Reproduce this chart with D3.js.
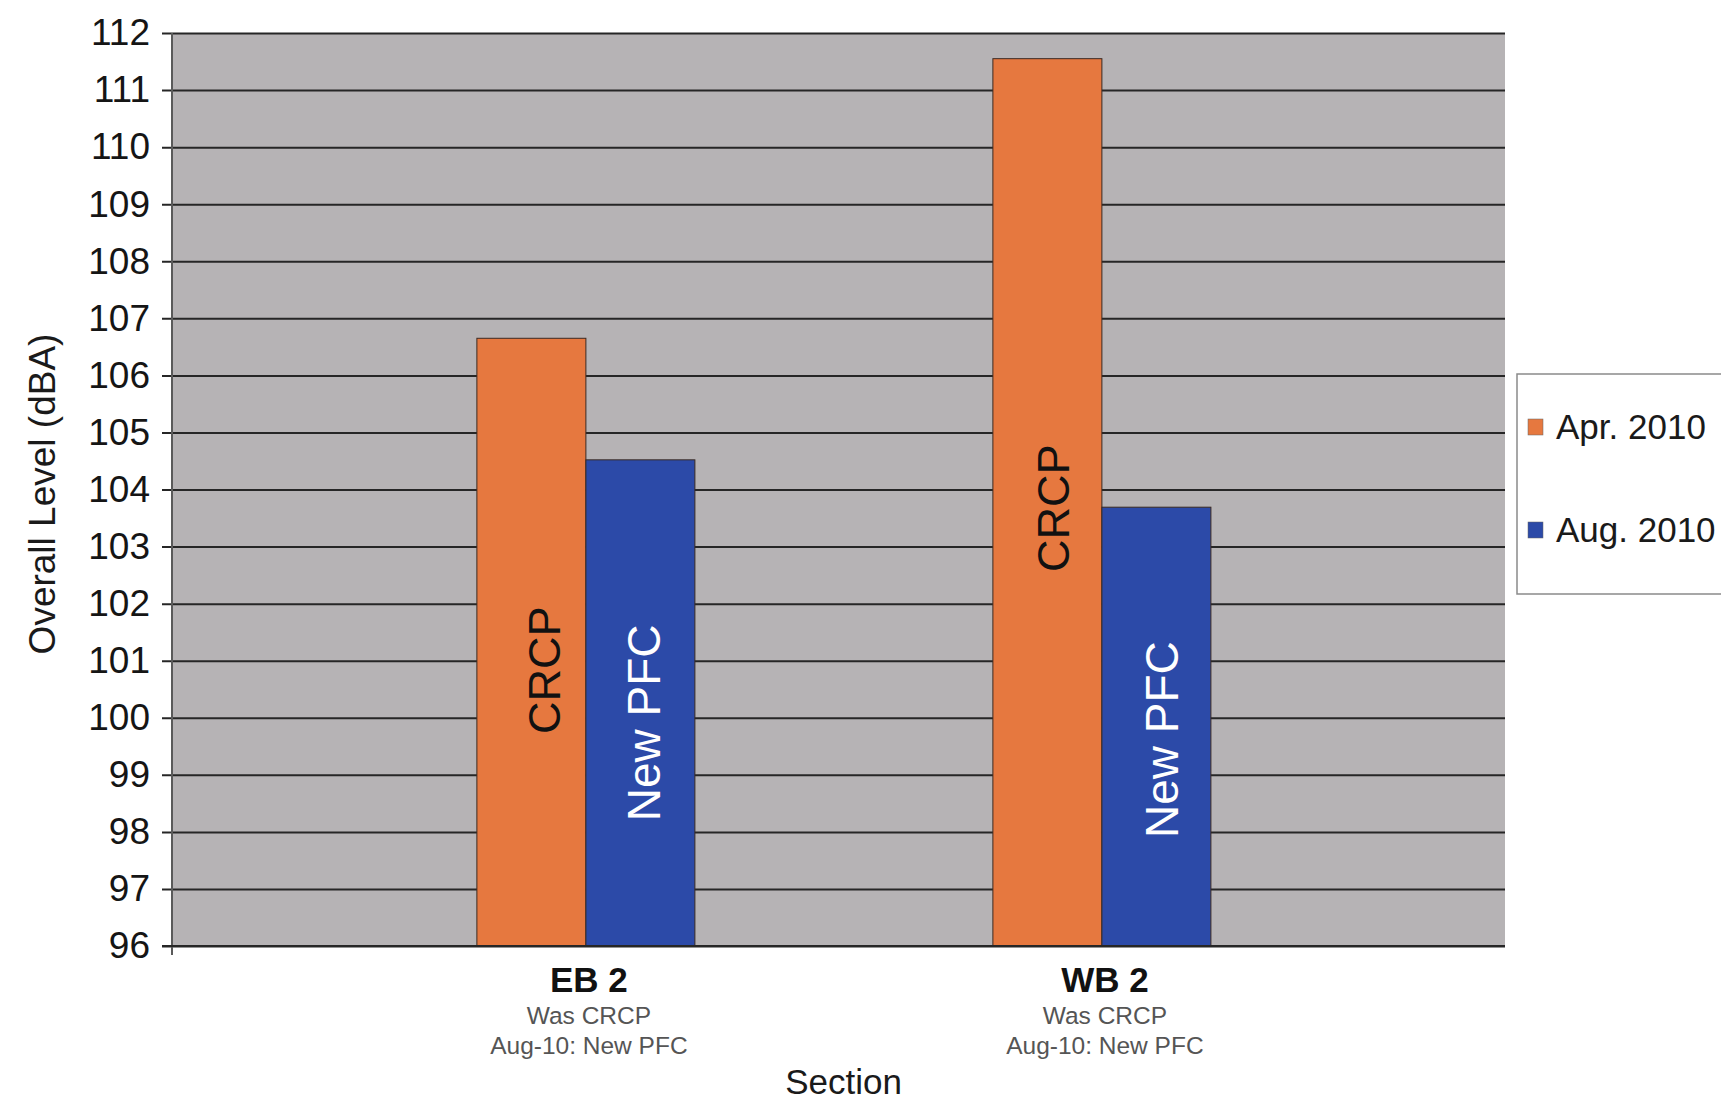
<!DOCTYPE html>
<html>
<head>
<meta charset="utf-8">
<script src="https://cdn.jsdelivr.net/npm/d3@7"></script>
<style>
  html, body { margin: 0; padding: 0; background: #ffffff; }
  svg { display: block; font-family: "Liberation Sans", Arial, Helvetica, sans-serif; }
</style>
</head>
<body>
<svg id="chart" width="1721" height="1102"></svg>
<script>
// Overall noise level per section, before and after the PFC overlay
const sections = ["EB 2", "WB 2"];
const sectionNotes = [["Was CRCP", "Aug-10: New PFC"], ["Was CRCP", "Aug-10: New PFC"]];
const seriesNames = ["Apr. 2010", "Aug. 2010"];
const apr2010 = [106.65, 111.55];
const aug2010 = [104.52, 103.69];
const barLabels = [["CRCP", "New PFC"], ["CRCP", "New PFC"]];
const yTicks = d3.range(96, 113, 1);

const colors = ["#e6783f", "#2c4aa8"];
const labelColors = ["#111111", "#ffffff"];

const svg = d3.select("#chart");
const W = 1721, H = 1102;
const plot = { left: 172, right: 1505, top: 33, bottom: 946 };

svg.append("rect").attr("width", W).attr("height", H).attr("fill", "#ffffff");

const y = d3.scaleLinear().domain([96, 112]).range([plot.bottom, plot.top]);
const x0 = d3.scaleBand().domain(sections)
  .range([plot.left, plot.right])
  .paddingInner(0.5775).paddingOuter(0.5804).align(0.509);
const x1 = d3.scaleBand().domain(seriesNames).range([0, x0.bandwidth()]).padding(0);

// plot area
svg.append("rect")
  .attr("x", plot.left).attr("y", plot.top)
  .attr("width", plot.right - plot.left).attr("height", plot.bottom - plot.top)
  .attr("fill", "#b6b3b5");

// gridlines with ticks extending left of the axis
const yAxis = d3.axisLeft(y).tickValues(yTicks)
  .tickSize(-(plot.right - plot.left)).tickPadding(22).tickFormat(d3.format("d"));
const gy = svg.append("g").attr("transform", `translate(${plot.left},0)`).call(yAxis);
gy.select(".domain").remove();
gy.selectAll(".tick line").attr("stroke", "#262626").attr("stroke-width", 2)
  .attr("x1", -10);
gy.selectAll(".tick text").attr("font-size", 37).attr("fill", "#151515");

// left axis line
svg.append("line")
  .attr("x1", plot.left).attr("x2", plot.left)
  .attr("y1", plot.top).attr("y2", plot.bottom + 9)
  .attr("stroke", "#5a5a5a").attr("stroke-width", 2);

// bars
const rows = sections.map((s, i) => ({ i, section: s, values: [apr2010[i], aug2010[i]], labels: barLabels[i] }));
const groups = svg.append("g").selectAll("g").data(rows).join("g")
  .attr("transform", d => `translate(${x0(d.section)},0)`);

groups.selectAll("rect").data(d => d.values.map((v, k) => ({ v, k })))
  .join("rect")
  .attr("x", d => x1(seriesNames[d.k]))
  .attr("y", d => y(d.v))
  .attr("width", x1.bandwidth())
  .attr("height", d => y(96) - y(d.v))
  .attr("fill", d => colors[d.k])
  .attr("stroke", "#3b2a22").attr("stroke-width", 1);

// rotated bar labels, nudged from the bar centre
const labelNudge = [[[13, 28], [4, 20]], [[6, 6], [6, 13]]];
groups.selectAll("text.bl").data(d => d.values.map((v, k) => ({ v, k, i: d.i, t: d.labels[k] })))
  .join("text").attr("class", "bl")
  .attr("transform", d => {
    const [dx, dy] = labelNudge[d.i][d.k];
    const cx = x1(seriesNames[d.k]) + x1.bandwidth() / 2 + dx;
    const cy = (y(d.v) + y(96)) / 2 + dy;
    return `translate(${cx},${cy}) rotate(-90)`;
  })
  .attr("text-anchor", "middle").attr("dominant-baseline", "central")
  .attr("font-size", d => d.k === 0 ? 45 : 46)
  .attr("fill", d => labelColors[d.k])
  .text(d => d.t);

// bottom axis line
svg.append("line")
  .attr("x1", plot.left - 10).attr("x2", plot.right)
  .attr("y1", plot.bottom).attr("y2", plot.bottom)
  .attr("stroke", "#262626").attr("stroke-width", 2);

// category labels
const cat = svg.append("g").selectAll("g").data(sections).join("g")
  .attr("transform", d => `translate(${x0(d) + x0.bandwidth() / 2 + 3},0)`);
cat.append("text").attr("y", 992).attr("text-anchor", "middle")
  .attr("font-size", 35).attr("font-weight", "bold").attr("fill", "#111")
  .text(d => d);
cat.each(function (d, i) {
  const g = d3.select(this);
  sectionNotes[i].forEach((t, j) => {
    g.append("text").attr("y", 1024 + j * 30).attr("text-anchor", "middle")
      .attr("font-size", 24.5).attr("fill", "#555")
      .text(t);
  });
});

// axis titles
svg.append("text").attr("x", (plot.left + plot.right) / 2 + 5).attr("y", 1094)
  .attr("text-anchor", "middle").attr("font-size", 35).attr("fill", "#1a1a1a")
  .text("Section");
svg.append("text")
  .attr("transform", `translate(55,494) rotate(-90)`)
  .attr("text-anchor", "middle").attr("font-size", 37).attr("fill", "#1a1a1a")
  .text("Overall Level (dBA)");

// legend
const lg = svg.append("g").attr("transform", "translate(1517,374)");
lg.append("rect").attr("width", 230).attr("height", 220)
  .attr("fill", "#ffffff").attr("stroke", "#8a8a8a").attr("stroke-width", 1.5);
const items = lg.selectAll("g").data(seriesNames).join("g")
  .attr("transform", (d, i) => `translate(0,${53 + i * 103})`);
items.append("rect").attr("x", 11).attr("y", -8).attr("width", 15).attr("height", 16)
  .attr("fill", (d, i) => colors[i]).attr("stroke", "#666").attr("stroke-width", 0.5);
items.append("text").attr("x", 39).attr("dy", "0.35em")
  .attr("font-size", 35).attr("fill", "#1a1a1a").text(d => d);
</script>
</body>
</html>
